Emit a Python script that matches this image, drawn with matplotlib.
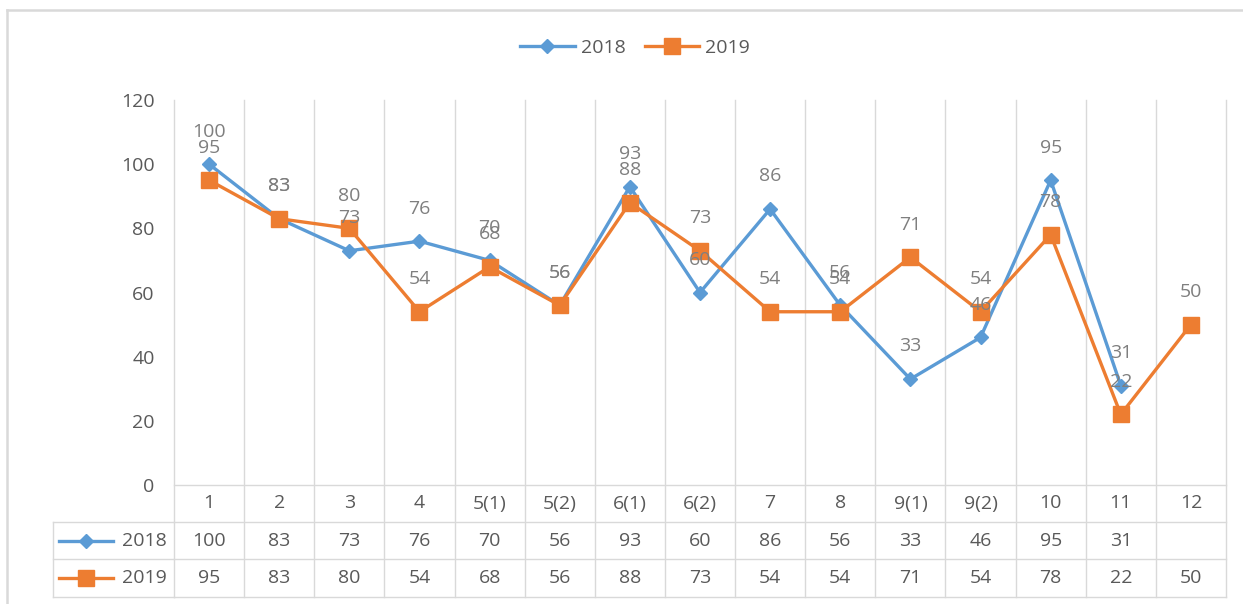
import numpy as np
import matplotlib
matplotlib.use("Agg")
import matplotlib.pyplot as plt
from matplotlib.lines import Line2D
from matplotlib.transforms import blended_transform_factory

categories = ["1", "2", "3", "4", "5(1)", "5(2)", "6(1)", "6(2)", "7", "8",
              "9(1)", "9(2)", "10", "11", "12"]
series_names = ["2018", "2019"]
values_2018 = [100, 83, 73, 76, 70, 56, 93, 60, 86, 56, 33, 46, 95, 31, None]
values_2019 = [95, 83, 80, 54, 68, 56, 88, 73, 54, 54, 71, 54, 78, 22, 50]
y_ticks = [0, 20, 40, 60, 80, 100, 120]

colors = ["#5B9BD5", "#ED7D31"]
markers = ["D", "s"]
msizes = [7.5, 12]
GRID = "#d9d9d9"
TXT = "#595959"
LBL = "#7f7f7f"

plt.rcParams['font.family'] = ['Open Sans', 'DejaVu Sans']
FS = 14

W, H = 1243, 604
fig = plt.figure(figsize=(W / 100, H / 100), dpi=100)

def fx(px):
    return px / W

def fy(py):
    return 1 - py / H

left, right, top, bottom = 174, 1226, 100, 485
ax = fig.add_axes([fx(left), fy(bottom), fx(right) - fx(left), fy(top) - fy(bottom)])
n = len(categories)
x = np.arange(n)
ax.set_xlim(-0.5, n - 0.5)
ax.set_ylim(0, 120)
for s in ax.spines.values():
    s.set_visible(False)
ax.set_xticks([])
ax.set_yticks(y_ticks)
ax.set_yticklabels([str(v) for v in y_ticks], fontsize=FS, color=TXT)
ax.tick_params(axis='y', length=0, pad=14)

axh = bottom - top
def ay(py):
    return -(py - bottom) / axh

trans = blended_transform_factory(ax.transData, ax.transAxes)

# vertical gridlines extending through table
row_lines = [485, 522, 559, 597]
for b in np.arange(-0.5, n, 1.0):
    ax.plot([b, b], [1, ay(row_lines[-1])], color=GRID, lw=1, transform=trans, clip_on=False, zorder=0)
# horizontal table lines
for py in row_lines:
    ax.plot([-0.5, n - 0.5], [ay(py), ay(py)], color=GRID, lw=1, transform=trans, clip_on=False, zorder=0)
# label column lines
tl = 53
for py in row_lines[1:]:
    fig.add_artist(Line2D([fx(tl), fx(left)], [fy(py), fy(py)], color=GRID, lw=1, transform=fig.transFigure))
fig.add_artist(Line2D([fx(tl), fx(tl)], [fy(row_lines[1]), fy(row_lines[-1])], color=GRID, lw=1, transform=fig.transFigure))

series = [values_2018, values_2019]
for i, vals in enumerate(series):
    v = np.array([np.nan if a is None else a for a in vals], dtype=float)
    ax.plot(x, v, color=colors[i], lw=2.4, marker=markers[i], ms=msizes[i],
            zorder=3 + i, clip_on=False, label=series_names[i])
    for xi, vi in zip(x, v):
        if not np.isnan(vi):
            ax.annotate(str(int(vi)), (xi, vi), xytext=(0, 23.5), textcoords='offset points',
                        ha='center', va='center', fontsize=FS, color=LBL, zorder=6)

# table text
cat_y = ay((row_lines[0] + row_lines[1]) / 2)
for xi, c in zip(x, categories):
    ax.text(xi, cat_y, c, transform=trans, ha='center', va='center', fontsize=FS, color=TXT)
for r, vals in enumerate(series):
    yy = ay((row_lines[r + 1] + row_lines[r + 2]) / 2)
    for xi, vi in zip(x, vals):
        if vi is not None:
            ax.text(xi, yy, str(vi), transform=trans, ha='center', va='center', fontsize=FS, color=TXT)
    py = (row_lines[r + 1] + row_lines[r + 2]) / 2
    fig.add_artist(Line2D([fx(59), fx(113)], [fy(py), fy(py)], color=colors[r], lw=2.4,
                          transform=fig.transFigure))
    fig.add_artist(Line2D([fx(86)], [fy(py)], color=colors[r], marker=markers[r], ms=msizes[r],
                          lw=0, transform=fig.transFigure))
    fig.text(fx(167), fy(py), series_names[r], ha='right', va='center', fontsize=FS, color=TXT)

# top legend
handles = [Line2D([], [], color=colors[i], lw=2.4, marker=markers[i], ms=msizes[i]) for i in range(2)]
fig.legend(handles, series_names, loc='center', bbox_to_anchor=(fx(635), fy(48)), ncol=2,
           frameon=False, fontsize=FS, labelcolor=TXT, handlelength=2.8, handletextpad=0.3,
           columnspacing=1.0)

# outer border
fig.add_artist(Line2D([fx(7), fx(W)], [fy(10), fy(10)], color=GRID, lw=1.8, transform=fig.transFigure))
fig.add_artist(Line2D([fx(7), fx(7)], [fy(10), fy(H)], color=GRID, lw=1.8, transform=fig.transFigure))

fig.savefig("out.png", dpi=100)
